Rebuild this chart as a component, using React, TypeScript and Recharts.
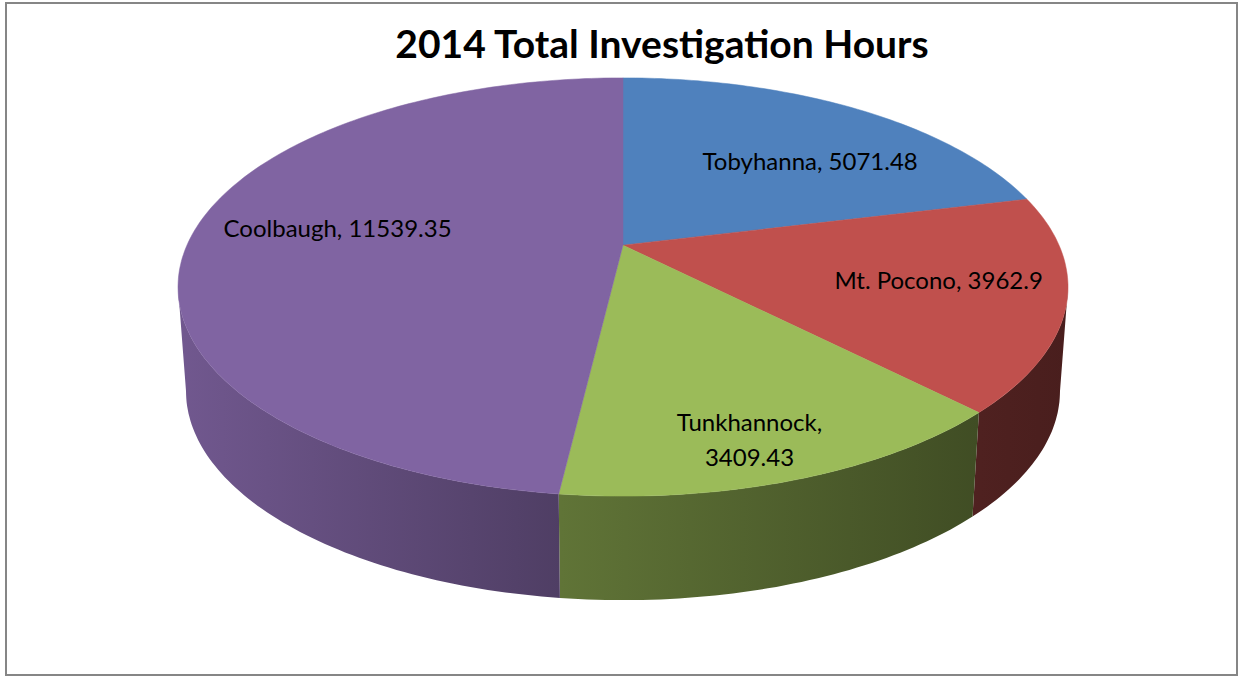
import React from 'react';
import { PieChart, Pie } from 'recharts';

// 2014 investigation hours per township
const towns = ['Tobyhanna', 'Mt. Pocono', 'Tunkhannock', 'Coolbaugh'];
const hours = [5071.48, 3962.9, 3409.43, 11539.35];
const topColors = ['#4f81bd', '#c0504d', '#9bbb59', '#8064a2'];

const data = towns.map((name, i) => ({ name, value: hours[i] }));

const W = 1239;
const H = 677;
const MARGIN = 5; // recharts default chart margin
const CX = 623 - MARGIN;
const CY = 287 - MARGIN;
const RX = 445;
const SQUASH = 0.47; // ry / rx of the top face
const DEPTH = 104; // thickness of the disc
const BOTTOM_SCALE = 0.982; // bottom rim a bit narrower (perspective)
const TILT = -0.2; // hub sits above the ellipse centre
// label placement: [angle nudge in degrees, radius 0..1]
const LABEL_POS = [
  [-8, 0.65],
  [1.9, 0.72],
  [-2.2, 0.85],
  [-3.5, 0.67],
];
const FONT = 'Lato, "Open Sans", sans-serif';

const RAD = Math.PI / 180;

// point of the disc (angle in degrees, radius 0..1) -> screen
function project(cx: number, cy: number, rx: number, deg: number, r = 1): [number, number] {
  const ry = rx * SQUASH;
  const x = r * Math.cos(deg * RAD);
  const y = -r * Math.sin(deg * RAD);
  const k = 1 + TILT * y;
  const px = (x * Math.sqrt(1 - TILT * TILT)) / k;
  const py = (y + TILT) / k;
  return [cx + rx * px, cy + ry * py];
}

function steps(a0: number, a1: number) {
  const n = Math.max(2, Math.ceil(Math.abs(a0 - a1)));
  const out: number[] = [];
  for (let i = 0; i <= n; i++) out.push(a0 + ((a1 - a0) * i) / n);
  return out;
}

function shade(hex: string, f: number) {
  const n = parseInt(hex.slice(1), 16);
  const c = [(n >> 16) & 255, (n >> 8) & 255, n & 255].map((v) => Math.round(v * f));
  return `rgb(${c[0]},${c[1]},${c[2]})`;
}

const pts = (list: [number, number][]) => list.map((p) => `${p[0].toFixed(1)},${p[1].toFixed(1)}`).join(' L');

function Wall(props: any) {
  const { cx, cy, outerRadius, startAngle, endAngle, index } = props;
  const hi = Math.max(startAngle, endAngle);
  const lo = Math.min(startAngle, endAngle);
  // front half of the rim
  const va = (Math.asin(TILT) * 180) / Math.PI;
  const vb = -180 - va;
  const color = topColors[index];
  const id = `wall-${index}`;
  const parts: React.ReactNode[] = [];
  for (let k = -2; k <= 2; k++) {
    const a = Math.min(hi, va + 360 * k);
    const b = Math.max(lo, vb + 360 * k);
    if (a - b < 0.01) continue;
    const top = steps(a, b).map((d) => project(cx, cy, outerRadius, d));
    const bottom = top
      .map(([x, y]) => [cx + (x - cx) * BOTTOM_SCALE, y + DEPTH] as [number, number])
      .reverse();
    parts.push(<path key={k} d={`M${pts(top)} L${pts(bottom)} Z`} fill={`url(#${id})`} />);
  }
  return (
    <g>
      <defs>
        <linearGradient id={id} gradientUnits="userSpaceOnUse" x1={cx - outerRadius} x2={cx + outerRadius} y1={0} y2={0}>
          <stop offset="0" stopColor={shade(color, 0.88)} />
          <stop offset="0.43" stopColor={shade(color, 0.62)} />
          <stop offset="0.9" stopColor={shade(color, 0.41)} />
          <stop offset="1" stopColor={shade(color, 0.38)} />
        </linearGradient>
      </defs>
      {parts}
    </g>
  );
}

function Face(props: any) {
  const { cx, cy, outerRadius, startAngle, endAngle, index } = props;
  const hub = project(cx, cy, outerRadius, 0, 0);
  const rim = steps(startAngle, endAngle).map((d) => project(cx, cy, outerRadius, d));
  const color = topColors[index];
  return <path d={`M${pts([hub, ...rim])} Z`} fill={color} stroke={color} strokeWidth={0.5} />;
}

function Label(props: any) {
  const { cx, cy, outerRadius, midAngle, index, name, value, percent } = props;
  const [nudge, r] = LABEL_POS[index];
  const [x, y] = project(cx, cy, outerRadius, midAngle + nudge, r);
  const common = { textAnchor: 'middle' as const, fontFamily: FONT, fontSize: 24, fill: '#000' };
  if (percent < 0.15) {
    return (
      <text {...common} x={x} y={y - 9.5}>
        <tspan x={x}>{`${name},`}</tspan>
        <tspan x={x} dy={35}>{value}</tspan>
      </text>
    );
  }
  return (
    <text {...common} x={x} y={y + 8}>
      {`${name}, ${value}`}
    </text>
  );
}

const pieProps = {
  data,
  dataKey: 'value',
  nameKey: 'name',
  cx: CX,
  cy: CY,
  outerRadius: RX,
  startAngle: 90,
  endAngle: -270,
  fill: 'none',
  stroke: 'none',
  labelLine: false,
  legendType: 'none' as const,
  isAnimationActive: false,
};

export default function App() {
  return (
    <div style={{ position: 'absolute', left: 0, top: 0, width: W, height: H, background: '#fff' }}>
      <PieChart width={W} height={H}>
        <Pie {...pieProps} label={Wall} />
        <Pie {...pieProps} label={Face} />
        <Pie {...pieProps} label={Label} />
      </PieChart>
      <svg width={W} height={H} style={{ position: 'absolute', left: 0, top: 0, pointerEvents: 'none' }}>
        <rect x={6} y={3} width={1231} height={672} fill="none" stroke="#868686" strokeWidth={2} />
        <text x={662} y={58} textAnchor="middle" fontFamily={FONT} fontWeight="bold" fontSize={39} fill="#000">
          2014 Total Investigation Hours
        </text>
      </svg>
    </div>
  );
}
